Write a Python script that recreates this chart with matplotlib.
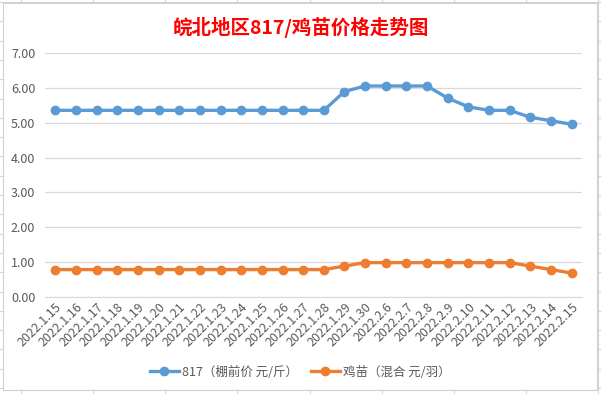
import matplotlib
matplotlib.use('Agg')
import matplotlib.pyplot as plt
from matplotlib.patches import Rectangle

plt.rcParams['font.family'] = ['Noto Sans CJK SC', 'DejaVu Sans']

dates = ['2022.1.15', '2022.1.16', '2022.1.17', '2022.1.18', '2022.1.19',
         '2022.1.20', '2022.1.21', '2022.1.22', '2022.1.23', '2022.1.24',
         '2022.1.25', '2022.1.26', '2022.1.27', '2022.1.28', '2022.1.29',
         '2022.1.30', '2022.2.6', '2022.2.7', '2022.2.8', '2022.2.9',
         '2022.2.10', '2022.2.11', '2022.2.12', '2022.2.13', '2022.2.14',
         '2022.2.15']
price_817 = [5.36, 5.36, 5.36, 5.36, 5.36, 5.36, 5.36, 5.36, 5.36, 5.36,
             5.36, 5.36, 5.36, 5.36, 5.90, 6.06, 6.06, 6.06, 6.06, 5.71,
             5.46, 5.36, 5.36, 5.16, 5.06, 4.96]
price_chick = [0.78, 0.78, 0.78, 0.78, 0.78, 0.78, 0.78, 0.78, 0.78, 0.78,
               0.78, 0.78, 0.78, 0.78, 0.88, 0.98, 0.98, 0.98, 0.98, 0.98,
               0.98, 0.98, 0.98, 0.88, 0.78, 0.68]
yticks = [0, 1, 2, 3, 4, 5, 6, 7]

W, H = 601, 394
fig = plt.figure(figsize=(W / 100, H / 100), dpi=100)

# excel sheet behind the chart
bg = fig.add_axes([0, 0, 1, 1], zorder=0)
bg.set_xlim(0, W)
bg.set_ylim(H, 0)
bg.axis('off')
for xv in [21, 92.5, 165, 237, 310, 381.5, 454, 525.5, 598]:
    bg.axvline(xv, color='#d4d4d4', lw=0.8)
for k in range(22):
    bg.axhline(2 + 19.3 * k, color='#d4d4d4', lw=0.8)
bg.add_patch(Rectangle((3, 3), 594, 387, facecolor='white',
                       edgecolor='#d0d0d0', lw=0.8, zorder=5))

ax = fig.add_axes([45 / W, 1 - 296.7 / H, 537 / W, (296.7 - 53.3) / H], zorder=2)
ax.patch.set_alpha(0)
x = list(range(len(dates)))
ax.plot(x, price_817, color='#5b9bd5', lw=2.4, marker='o', ms=6,
        label='817（棚前价 元/斤）', zorder=3)
ax.plot(x, price_chick, color='#ed7d31', lw=2.4, marker='o', ms=6,
        label='鸡苗（混合 元/羽）', zorder=3)

ax.set_xlim(-0.5, len(dates) - 0.5)
ax.set_ylim(0, 7)
ax.set_yticks(yticks)
ax.set_yticklabels(['%.2f' % v for v in yticks])
ax.set_xticks(x)
ax.set_xticklabels(dates, rotation=45, ha='right', rotation_mode='anchor')
ax.grid(axis='y', color='#d9d9d9', lw=0.9)
ax.set_axisbelow(True)
for s in ['top', 'right', 'left']:
    ax.spines[s].set_visible(False)
ax.spines['bottom'].set_color('#d9d9d9')
ax.tick_params(axis='both', length=0, labelsize=9, colors='#595959')
ax.tick_params(axis='y', pad=7)
ax.tick_params(axis='x', pad=3)

fig.text(0.5, 1 - 27 / H, '皖北地区817/鸡苗价格走势图', color='#ff0000',
         fontsize=14, fontweight='bold', ha='center', va='center')

fig.legend(loc='center', bbox_to_anchor=(0.5, 1 - 372 / H), ncol=2,
           frameon=False, fontsize=9, labelcolor='#595959',
           handlelength=2.3, columnspacing=1.0, handletextpad=0.3)

fig.savefig('out.png', dpi=100)
